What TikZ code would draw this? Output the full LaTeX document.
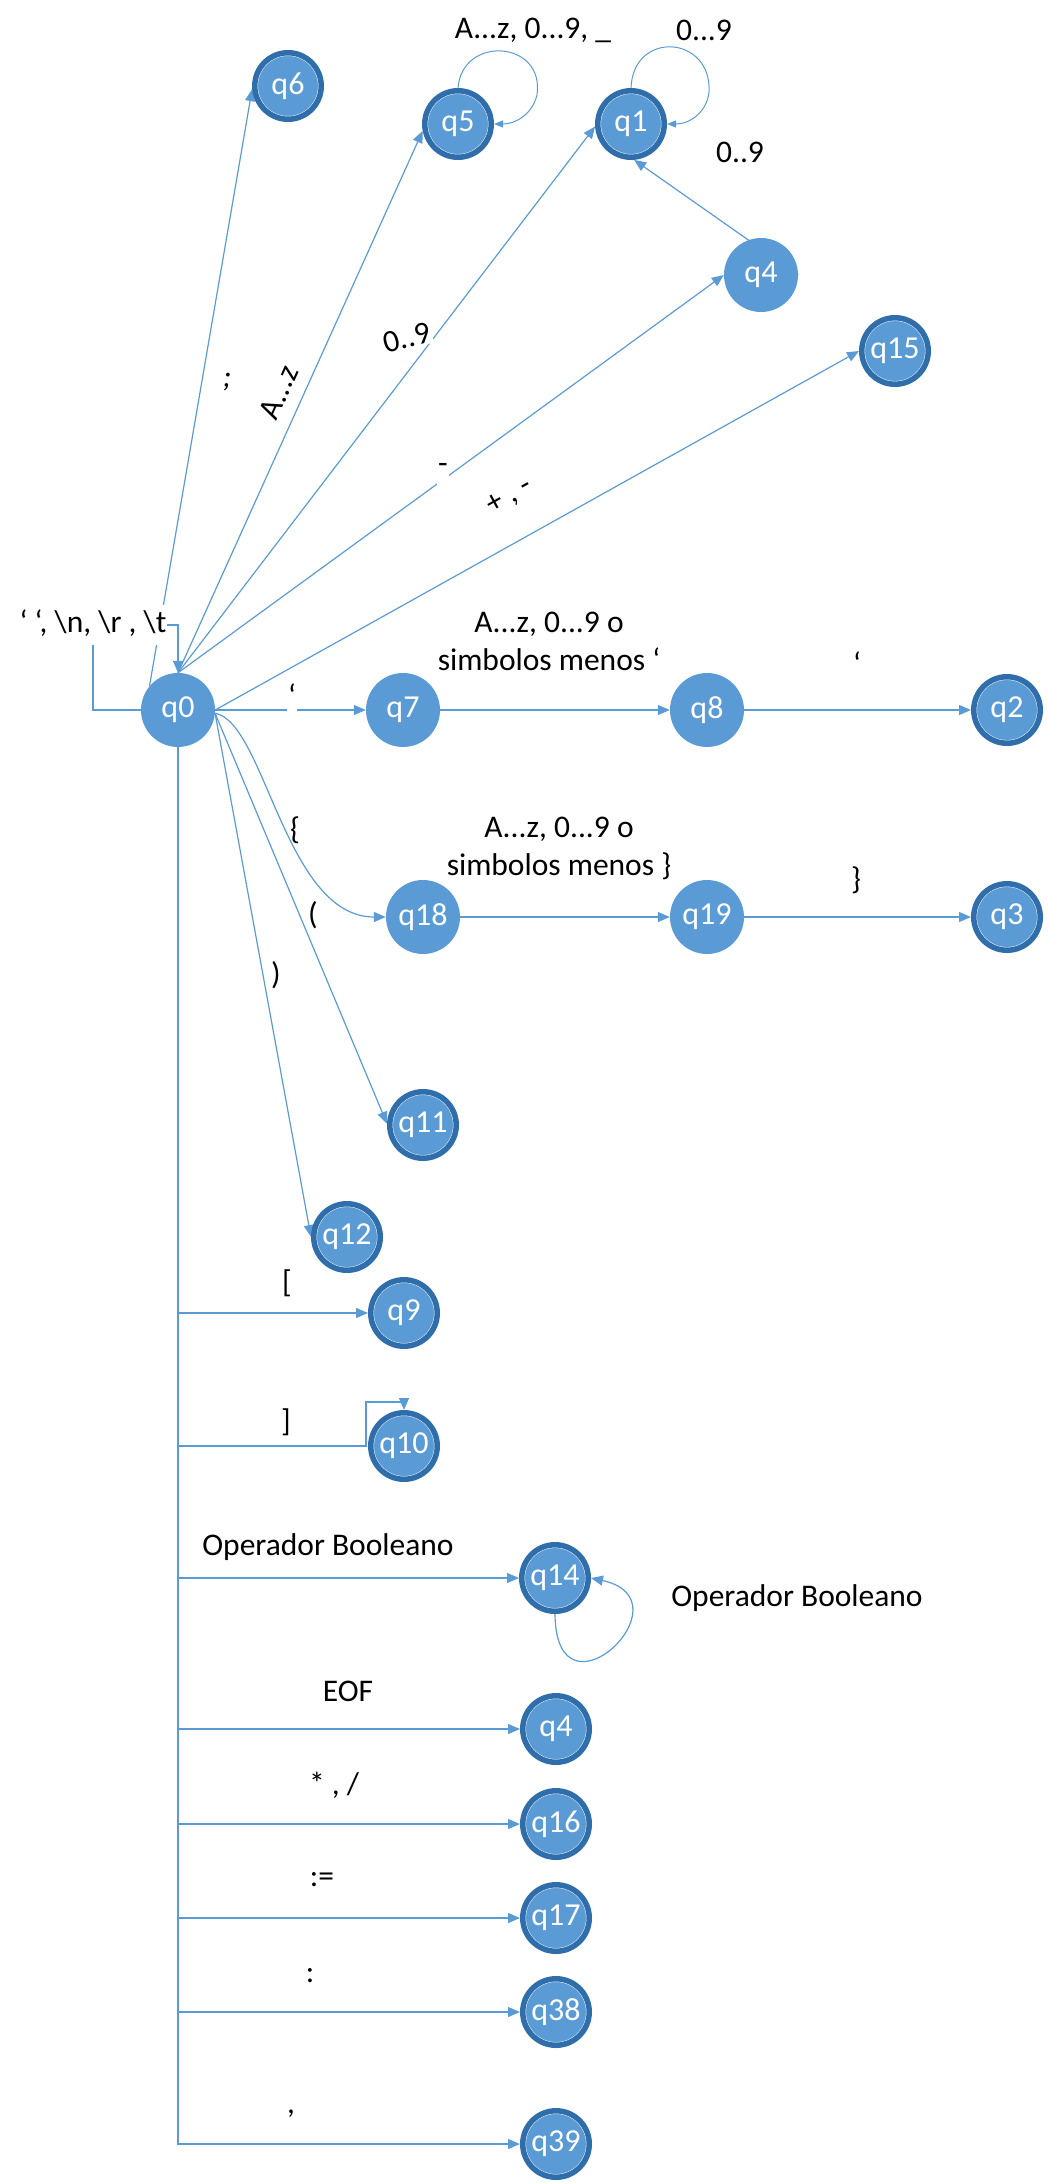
\documentclass[tikz,border=0pt]{standalone}
\usepackage{fontspec}
\setmainfont{Carlito}
\usetikzlibrary{arrows.meta}
\definecolor{stfill}{HTML}{5B9BD5}
\definecolor{ringblue}{HTML}{2F6EAB}
\definecolor{lineblue}{HTML}{5B9BD5}
\pgfdeclarelayer{bg}
\pgfsetlayers{bg,main}
\tikzset{
  stbase/.style={circle, fill=stfill, text=white, font=\fontsize{32}{38}\selectfont, inner sep=0pt},
  stplain/.style={stbase, minimum size=74pt},
  staccept/.style={stbase, draw=ringblue, line width=5.5pt, minimum size=66.5pt,
    path picture={\draw[white, line width=0.9pt] (path picture bounding box.center) circle (30.5pt);}},
  conn/.style={draw=lineblue, line width=1.2pt, -{Triangle[length=12pt,width=10pt]}},
  sconn/.style={draw=lineblue, line width=1pt, -{Triangle[length=9pt,width=7pt]}},
  lbl/.style={font=\fontsize{31.5}{38}\selectfont, text=black, inner sep=1pt},
}
\begin{document}
\begin{tikzpicture}[x=1pt,y=-1pt]
\useasboundingbox (0,0) rectangle (1048,2184);
% states
\node[stplain] (q0) at (178,710) {q0};
\node[staccept] (q6) at (288,86) {q6};
\node[staccept] (q5) at (458,124) {q5};
\node[staccept] (q1) at (631,124) {q1};
\node[stplain] (q4) at (761,275) {q4};
\node[staccept] (q15) at (895,351) {q15};
\node[stplain] (q7) at (403,710) {q7};
\node[stplain] (q8) at (707,710) {q8};
\node[staccept] (q2) at (1007,710) {q2};
\node[stplain] (q18) at (423,917) {q18};
\node[stplain] (q19) at (707,917) {q19};
\node[staccept] (q3) at (1007,917) {q3};
\node[staccept] (q11) at (423,1125) {q11};
\node[staccept] (q12) at (347,1237) {q12};
\node[staccept] (q9) at (404,1313) {q9};
\node[staccept] (q10) at (404,1446) {q10};
\node[staccept] (q14) at (555,1578) {q14};
\node[staccept] (q4b) at (556,1729) {q4};
\node[staccept] (q16) at (556,1824) {q16};
\node[staccept] (q17) at (556,1918) {q17};
\node[staccept] (q38) at (556,2012) {q38};
\node[staccept] (q39) at (556,2144) {q39};
% labels
\node[lbl, fill=white] (lws) at (93,625) {‘ ‘, \textbackslash n, \textbackslash r , \textbackslash t\strut};
\node[lbl, rotate=-8] (lsemi) at (227,382) {;};
\node[lbl, rotate=66] (laz) at (279,392) {A...z};
\node[lbl, fill=white, rotate=15] (l09a) at (407,338) {0..9};
\node[lbl, fill=white, anchor=base] (lminus) at (443,473) {-\strut};
\node[lbl, rotate=29] (lpm) at (510,497) {+ , -};
\node[lbl, fill=white, anchor=north] (lq7) at (292,679) {‘\strut};
\node[lbl, align=center] (lq78) at (549,641) {A...z, 0...9 o\\simbolos menos ‘};
\node[lbl] (lq82) at (857,663) {‘};
\node[lbl] (lbrace) at (295,830) {\{};
\node[lbl] (lparo) at (313,915) {(};
\node[lbl] (lparc) at (276,975) {)};
\node[lbl, align=center] (lq1819) at (559,848) {A...z, 0...9 o\\simbolos menos \}};
\node[lbl] (lq193) at (856,880) {\}};
\node[lbl] (lbrk) at (287,1283) {[};
\node[lbl] (lbrkc) at (286,1422) {]};
\node[lbl] (lob1) at (328,1547) {Operador Booleano};
\node[lbl] (lob2) at (797,1598) {Operador Booleano};
\node[lbl] (leof) at (348,1691) {EOF};
\node[lbl] (lmul) at (334,1785) {* , /};
\node[lbl] (lassign) at (322,1880) {:=};
\node[lbl] (lcolon) at (310,1976) {:};
\node[lbl] (lcomma) at (291,2114) {,};
\node[lbl] (lq5) at (533,30) {A...z, 0...9, \_};
\node[lbl] (lq1) at (704,30) {0...9};
\node[lbl] (lq41) at (740,152) {0..9};
% connectors
\begin{pgfonlayer}{bg}
\draw[conn] (q0.west) -| (lws.center) -| (q0.north);
\draw[conn] (q0.140) -- (q6.185);
\draw[conn] (q0.north) -- (q5.191);
\draw[conn] (q0.north) -- (q1.184);
\draw[conn] (q0.north) -- (q4.west);
\draw[conn] (q0.east) -- (q15.west);
\draw[conn] (q0.east) -- (q7.west);
\draw[conn] (q7.east) -- (q8.west);
\draw[conn] (q8.east) -- (q2.west);
\draw[conn] (q0.-5) .. controls (265,722) and (285,917) .. (q18.west);
\draw[conn] (q18.east) -- (q19.west);
\draw[conn] (q19.east) -- (q3.west);
\draw[conn] (q0.-5) -- (q11.178);
\draw[conn] (q0.-5) -- (q12.west);
\draw[conn] (q0.south) |- (q9.west);
\draw[conn] (q0.south) |- ([xshift=-2pt]q10.west) |- ([yshift=8pt]q10.north) -- (q10.north);
\draw[conn] (q0.south) |- (q14.west);
\draw[conn] (q0.south) |- (q4b.west);
\draw[conn] (q0.south) |- (q16.west);
\draw[conn] (q0.south) |- (q17.west);
\draw[conn] (q0.south) |- (q38.west);
\draw[conn] (q0.south) |- (q39.west);
\draw[sconn] (q5.north) .. controls (462,35) and (545,40) .. (537,95) .. controls (532,115) and (515,124) .. (q5.east);
\draw[sconn] (q1.north) .. controls (633,30) and (712,35) .. (709,92) .. controls (707,112) and (690,124) .. (q1.east);
\draw[conn] (q14.south) .. controls (556,1730) and (692,1600) .. (q14.east);
\end{pgfonlayer}
\draw[conn] (q4.east) -- (q1.275);
\end{tikzpicture}
\end{document}
